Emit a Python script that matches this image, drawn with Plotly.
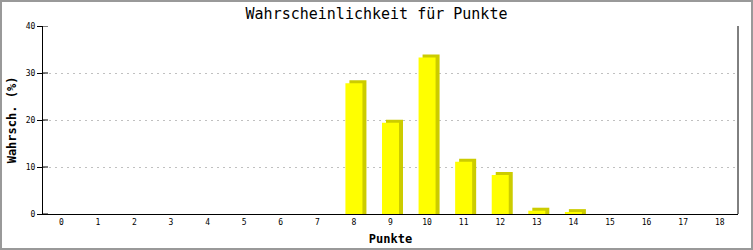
import plotly.graph_objects as go

# Data
points = list(range(0, 19))
probs = [0, 0, 0, 0, 0, 0, 0, 0, 27.8, 19.4, 33.3, 11.1, 8.3, 0.7, 0.4, 0, 0, 0, 0]
y_ticks = [0, 10, 20, 30, 40]
title_text = "Wahrscheinlichkeit für Punkte"
x_title = "Punkte"
y_title = "Wahrsch. (%)"

W, H = 753, 250
ML, MR, MT, MB = 43, 15, 26, 36
PW, PH = W - ML - MR, H - MT - MB

BAR_W = 0.465
DX = 4 / PW * 19.0        # shadow depth in x units
DY = 3 / PH * 40.0        # shadow depth in y units

shadow_x = [p for p, v in zip(points, probs) if v > 0]
shadow_y = [v + DY for v in probs if v > 0]

fig = go.Figure()
fig.add_trace(go.Bar(
    x=shadow_x, y=shadow_y, width=BAR_W, offset=-BAR_W / 2 + DX,
    marker=dict(color="#cccc00", line=dict(width=0)), hoverinfo="skip", showlegend=False))
fig.add_trace(go.Bar(
    x=points, y=probs, width=BAR_W, offset=-BAR_W / 2,
    marker=dict(color="#ffff00", line=dict(width=0)), showlegend=False))

mono = "DejaVu Sans Mono"
fig.update_layout(
    width=W, height=H, barmode="overlay",
    margin=dict(l=ML, r=MR, t=MT, b=MB),
    paper_bgcolor="white", plot_bgcolor="white",
    title=dict(text=title_text, x=0.5, xanchor="center", y=1 - 14 / H, yanchor="middle",
               font=dict(family=mono, size=15, color="black")),
    xaxis=dict(range=[-0.5, 18.5], tickvals=points, ticktext=[str(p) for p in points],
               automargin=False,
               showgrid=False, zeroline=False, showline=True, linecolor="black", linewidth=1,
               ticks="", tickfont=dict(family=mono, size=8, color="black"),
               title=dict(text=x_title, font=dict(family=mono, size=12, color="black", weight="bold"),
                          standoff=9)),
    yaxis=dict(range=[0, 40], tickvals=y_ticks, showgrid=True, gridcolor="#c0c0c0",
               automargin=False,
               griddash="2px,4px", gridwidth=1, zeroline=False, showline=True,
               linecolor="black", linewidth=1, ticks="outside", ticklen=5, tickcolor="black",
               tickfont=dict(family=mono, size=8, color="black"),
               title=dict(text=y_title, font=dict(family=mono, size=12, color="black", weight="bold"),
                          standoff=6)),
)

shapes = []
# inside part of y ticks
for t in y_ticks:
    shapes.append(dict(type="line", xref="x domain", yref="y", x0=0, x1=5 / PW, y0=t, y1=t,
                       line=dict(color="black", width=1), layer="above"))
# right plot border
shapes.append(dict(type="line", xref="x domain", yref="y domain", x0=1, x1=1, y0=0, y1=1,
                   line=dict(color="black", width=1)))
# image frame
shapes.append(dict(type="rect", xref="paper", yref="paper",
                   x0=(-ML + 1) / PW, x1=(PW + MR - 1) / PW,
                   y0=(-MB + 1) / PH, y1=(PH + MT - 1) / PH,
                   line=dict(color="#999999", width=2), fillcolor="rgba(0,0,0,0)"))
fig.update_layout(shapes=shapes)

fig.write_html("out.html")
